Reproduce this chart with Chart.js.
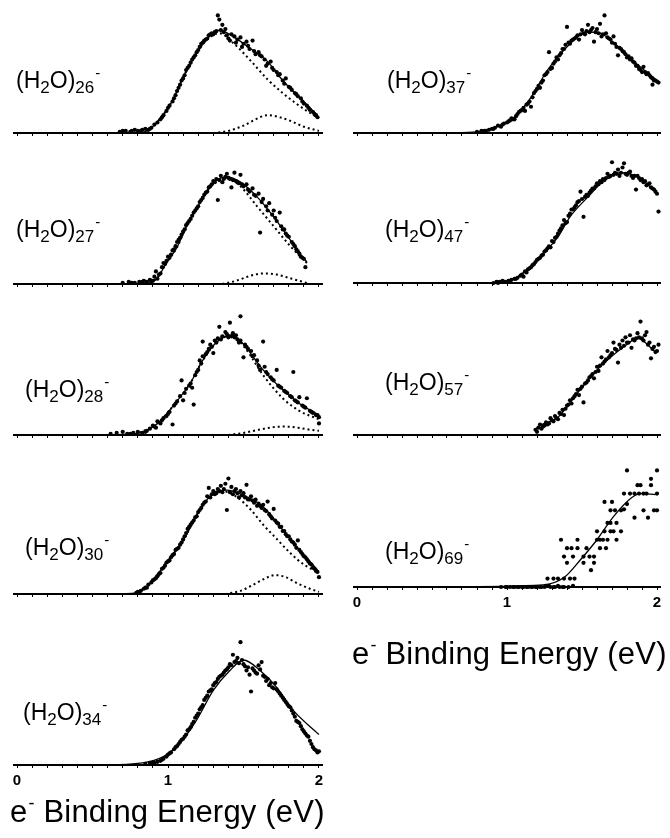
<!DOCTYPE html>
<html><head><meta charset="utf-8">
<script src="https://cdn.jsdelivr.net/npm/chart.js@4.4.1/dist/chart.umd.min.js"></script>
<style>
html,body{margin:0;padding:0;background:#fff;}
#page{position:relative;width:670px;height:838px;overflow:hidden;font-family:"Liberation Sans",Arial,sans-serif;color:#000;}
canvas{position:absolute;}
.lbl{position:absolute;font-size:23px;line-height:23px;white-space:nowrap;}
.lbl .sb{font-size:17px;position:relative;top:5px;}
.lbl .sp{font-size:15px;position:relative;top:-10px;margin-left:1px;}
.ttl{position:absolute;font-size:31px;line-height:31px;white-space:nowrap;letter-spacing:0.2px;}
.ttl .sp{font-size:18px;position:relative;top:-13px;margin-left:1px;}
</style></head><body><div id="page"></div>
<script>
// ---- axis ticks ----
const minorTicks = [0,0.1,0.2,0.3,0.4,0.5,0.6,0.7,0.8,0.9,1,1.1,1.2,1.3,1.4,1.5,1.6,1.7,1.8,1.9,2];
const majorTicks = [0,1,2];
const tickLabels = ['0','1','2'];
const clusterSizes = ['26','27','28','30','34','37','47','57','69'];
const axisTitle = 'Binding Energy (eV)';

// ---- (H2O)26- ----
const pts26 = [[0.68,0.01],[0.72,0.02],[0.75,0.01],[0.78,0.03],[0.8,0.02],[0.83,0.03],[0.85,0.04],[0.87,0.03],[0.89,0.05],[0.91,0.08],[0.93,0.10],[0.95,0.13],[0.97,0.17],[0.99,0.21],[1.01,0.26],[1.03,0.30],[1.05,0.36],[1.06,0.40],[1.08,0.46],[1.09,0.50],[1.11,0.55],[1.12,0.60],[1.14,0.64],[1.15,0.67],[1.17,0.72],[1.18,0.74],[1.20,0.79],[1.21,0.82],[1.23,0.86],[1.24,0.88],[1.26,0.90],[1.27,0.93],[1.29,0.95],[1.30,0.94],[1.32,0.97],[1.33,1.12],[1.34,1.08],[1.36,1.03],[1.37,0.96],[1.39,0.93],[1.40,0.90],[1.42,0.94],[1.44,0.92],[1.46,0.89],[1.48,0.91],[1.50,0.85],[1.52,0.87],[1.54,0.80],[1.56,0.88],[1.58,0.75],[1.60,0.77],[1.62,0.73],[1.64,0.70],[1.66,0.66],[1.68,0.68],[1.70,0.60],[1.72,0.58],[1.74,0.56],[1.76,0.50],[1.78,0.52],[1.80,0.44],[1.82,0.41],[1.84,0.38],[1.86,0.35],[1.88,0.33],[1.90,0.28],[1.92,0.26],[1.94,0.22],[1.96,0.20],[1.98,0.17],[1.99,0.15],
 [0.70,0.02],[0.76,0.02],[0.82,0.02],[0.88,0.04],[0.96,0.15],[1.00,0.24],[1.04,0.33],[1.07,0.43],[1.10,0.52],[1.13,0.62],[1.16,0.70],[1.19,0.77],[1.22,0.85],[1.25,0.89],[1.28,0.94],[1.31,0.96],[1.35,0.98],[1.38,0.99],[1.41,0.88],[1.45,0.86],[1.49,0.82],[1.53,0.83],[1.57,0.78],[1.61,0.74],[1.65,0.64],[1.69,0.62],[1.73,0.55],[1.77,0.47],[1.81,0.43],[1.85,0.37],[1.89,0.30],[1.93,0.24],[1.97,0.18]];
const fit26 = [[0.6,0],[0.8,0],[0.86,0.02],[0.95,0.14],[1.03,0.31],[1.10,0.53],[1.19,0.76],[1.26,0.90],[1.34,0.98],[1.43,0.92],[1.54,0.81],[1.66,0.68],[1.76,0.50],[1.87,0.34],[1.99,0.17]];
const main26 = [[0.86,0.02],[0.95,0.14],[1.03,0.31],[1.10,0.53],[1.19,0.76],[1.26,0.89],[1.34,0.95],[1.43,0.86],[1.54,0.70],[1.66,0.51],[1.76,0.38],[1.84,0.29],[1.92,0.21],[2.0,0.14]];
const comp26 = [[1.3,0],[1.4,0.02],[1.5,0.07],[1.58,0.13],[1.66,0.17],[1.74,0.15],[1.82,0.11],[1.9,0.06],[2.0,0.02]];

// ---- (H2O)27- ----
const pts27 = [[0.70,0.01],[0.74,0.02],[0.78,0.01],[0.81,0.02],[0.84,0.03],[0.86,0.02],[0.88,0.04],[0.90,0.03],[0.91,0.07],[0.92,0.12],[0.93,0.05],[0.95,0.10],[0.96,0.16],[0.97,0.20],[0.99,0.22],[1.00,0.26],[1.02,0.28],[1.03,0.32],[1.05,0.36],[1.06,0.40],[1.08,0.44],[1.09,0.47],[1.11,0.52],[1.12,0.56],[1.14,0.60],[1.15,0.62],[1.17,0.68],[1.18,0.70],[1.20,0.74],[1.21,0.78],[1.23,0.82],[1.24,0.85],[1.26,0.88],[1.27,0.92],[1.29,0.95],[1.30,0.98],[1.32,1.00],[1.33,0.80],[1.35,1.03],[1.36,0.97],[1.38,1.02],[1.39,1.05],[1.41,1.00],[1.42,0.92],[1.44,1.06],[1.45,0.98],[1.47,0.96],[1.48,1.04],[1.50,0.93],[1.52,0.95],[1.54,0.88],[1.56,0.91],[1.58,0.84],[1.60,0.86],[1.61,0.49],[1.63,0.81],[1.65,0.74],[1.67,0.77],[1.69,0.66],[1.70,0.70],[1.72,0.60],[1.74,0.68],[1.75,0.55],[1.77,0.52],[1.78,0.48],[1.80,0.45],[1.82,0.40],[1.84,0.36],[1.85,0.33],[1.87,0.29],[1.88,0.26],[1.90,0.24],[1.91,0.16],
 [0.76,0.01],[0.83,0.02],[0.89,0.03],[0.94,0.09],[0.98,0.19],[1.01,0.25],[1.04,0.33],[1.07,0.42],[1.10,0.50],[1.13,0.58],[1.16,0.65],[1.19,0.72],[1.22,0.80],[1.25,0.87],[1.28,0.93],[1.31,0.97],[1.34,0.99],[1.37,1.00],[1.40,1.01],[1.43,0.99],[1.46,0.97],[1.49,0.95],[1.53,0.90],[1.57,0.85],[1.62,0.78],[1.66,0.70],[1.71,0.63],[1.76,0.52],[1.79,0.46],[1.83,0.38],[1.86,0.31],[1.89,0.25]];
const fit27 = [[0.6,0],[0.88,0.01],[0.93,0.06],[0.99,0.20],[1.06,0.35],[1.12,0.54],[1.21,0.77],[1.30,0.96],[1.39,1.02],[1.48,0.97],[1.59,0.83],[1.70,0.64],[1.81,0.42],[1.89,0.26],[1.92,0.21]];
const main27 = [[0.88,0.01],[0.93,0.06],[0.99,0.20],[1.06,0.35],[1.12,0.54],[1.21,0.77],[1.30,0.96],[1.39,1.01],[1.48,0.93],[1.59,0.74],[1.70,0.55],[1.81,0.36],[1.92,0.20]];
const comp27 = [[1.36,0],[1.45,0.03],[1.55,0.08],[1.63,0.10],[1.72,0.09],[1.82,0.05],[1.92,0.01]];

// ---- (H2O)28- ----
const pts28 = [[0.62,0.01],[0.66,0.02],[0.70,0.03],[0.73,0.01],[0.77,0.02],[0.80,0.03],[0.83,0.02],[0.86,0.04],[0.88,0.06],[0.90,0.09],[0.92,0.07],[0.93,0.13],[0.95,0.11],[0.97,0.16],[0.99,0.18],[1.01,0.22],[1.03,0.10],[1.04,0.28],[1.06,0.32],[1.08,0.37],[1.09,0.52],[1.10,0.33],[1.12,0.44],[1.14,0.47],[1.16,0.45],[1.17,0.29],[1.18,0.57],[1.20,0.62],[1.21,0.71],[1.23,0.75],[1.23,0.89],[1.25,0.77],[1.27,0.82],[1.28,0.86],[1.30,0.78],[1.31,0.90],[1.33,0.92],[1.34,1.03],[1.36,0.94],[1.38,0.98],[1.40,0.93],[1.41,1.07],[1.43,0.97],[1.45,0.95],[1.46,0.91],[1.48,1.13],[1.48,0.90],[1.50,0.74],[1.51,0.86],[1.53,0.82],[1.55,0.80],[1.57,0.76],[1.59,0.71],[1.61,0.62],[1.63,0.89],[1.64,0.65],[1.66,0.58],[1.68,0.55],[1.70,0.52],[1.72,0.62],[1.73,0.47],[1.75,0.45],[1.77,0.42],[1.79,0.40],[1.81,0.37],[1.83,0.60],[1.84,0.33],[1.86,0.31],[1.87,0.36],[1.89,0.28],[1.91,0.26],[1.92,0.35],[1.94,0.23],[1.96,0.21],[1.98,0.19],[2.00,0.17],[2.00,0.11],
 [0.75,0.01],[0.85,0.03],[0.91,0.08],[0.96,0.14],[1.00,0.20],[1.05,0.30],[1.11,0.40],[1.15,0.49],[1.19,0.60],[1.22,0.68],[1.26,0.79],[1.29,0.84],[1.32,0.88],[1.35,0.91],[1.39,0.96],[1.42,0.94],[1.44,0.93],[1.47,0.88],[1.52,0.84],[1.56,0.75],[1.60,0.66],[1.65,0.60],[1.69,0.53],[1.74,0.46],[1.78,0.41],[1.82,0.36],[1.85,0.32],[1.90,0.27],[1.95,0.22],[1.99,0.19]];
const fit28 = [[0.6,0],[0.81,0.02],[0.93,0.11],[1.03,0.27],[1.15,0.50],[1.23,0.71],[1.32,0.88],[1.42,0.95],[1.47,0.91],[1.52,0.83],[1.63,0.62],[1.76,0.43],[1.87,0.30],[2.0,0.19]];
const main28 = [[0.81,0.02],[0.93,0.11],[1.03,0.27],[1.15,0.50],[1.23,0.71],[1.32,0.88],[1.42,0.95],[1.52,0.81],[1.63,0.57],[1.76,0.35],[1.87,0.23],[2.0,0.15]];
const comp28 = [[1.40,0],[1.5,0.02],[1.6,0.05],[1.7,0.075],[1.78,0.08],[1.86,0.07],[1.94,0.05],[2.0,0.04]];

// ---- (H2O)30- ----
const pts30 = [[0.79,0.01],[0.80,0.02],[0.82,0.03],[0.84,0.05],[0.86,0.06],[0.87,0.09],[0.89,0.11],[0.90,0.13],[0.92,0.15],[0.93,0.17],[0.95,0.20],[0.96,0.24],[0.98,0.27],[0.99,0.30],[1.01,0.32],[1.02,0.35],[1.04,0.38],[1.05,0.42],[1.07,0.44],[1.08,0.47],[1.10,0.52],[1.11,0.55],[1.13,0.62],[1.14,0.64],[1.16,0.68],[1.17,0.70],[1.19,0.74],[1.20,0.78],[1.22,0.82],[1.23,0.85],[1.25,0.88],[1.26,0.93],[1.27,1.01],[1.29,0.95],[1.30,0.98],[1.32,0.96],[1.33,1.00],[1.35,1.03],[1.36,0.97],[1.38,1.05],[1.39,0.80],[1.40,1.10],[1.42,1.02],[1.43,0.95],[1.45,1.00],[1.47,0.92],[1.48,0.98],[1.50,0.96],[1.52,1.04],[1.53,0.90],[1.55,0.93],[1.57,0.87],[1.58,0.90],[1.60,0.86],[1.62,0.82],[1.63,0.85],[1.65,0.79],[1.66,0.88],[1.68,0.74],[1.70,0.81],[1.71,0.70],[1.73,0.67],[1.75,0.64],[1.77,0.60],[1.78,0.57],[1.80,0.55],[1.82,0.50],[1.84,0.47],[1.86,0.51],[1.87,0.42],[1.89,0.38],[1.91,0.35],[1.93,0.31],[1.95,0.28],[1.96,0.25],[1.98,0.22],[2.00,0.16],
 [0.81,0.02],[0.85,0.06],[0.91,0.14],[0.94,0.19],[0.97,0.25],[1.00,0.31],[1.03,0.37],[1.06,0.43],[1.09,0.49],[1.12,0.58],[1.15,0.66],[1.18,0.73],[1.21,0.80],[1.24,0.87],[1.28,0.92],[1.31,0.95],[1.34,0.98],[1.37,1.00],[1.41,0.97],[1.44,0.98],[1.46,0.96],[1.49,0.94],[1.51,0.92],[1.54,0.90],[1.56,0.89],[1.59,0.84],[1.61,0.84],[1.64,0.80],[1.67,0.76],[1.69,0.72],[1.72,0.68],[1.74,0.64],[1.76,0.60],[1.79,0.55],[1.81,0.52],[1.83,0.49],[1.85,0.44],[1.88,0.40],[1.90,0.36],[1.92,0.33],[1.94,0.29],[1.97,0.24],[1.99,0.21]];
const fit30 = [[0.6,0],[0.79,0.01],[0.88,0.10],[0.99,0.30],[1.10,0.51],[1.21,0.80],[1.30,0.96],[1.39,0.99],[1.50,0.94],[1.63,0.83],[1.76,0.61],[1.87,0.42],[1.99,0.23]];
const main30 = [[0.79,0.01],[0.88,0.10],[0.99,0.30],[1.10,0.51],[1.21,0.80],[1.30,0.96],[1.36,0.98],[1.45,0.93],[1.55,0.80],[1.63,0.66],[1.71,0.54],[1.81,0.39],[1.90,0.28],[1.99,0.21]];
const comp30 = [[1.38,0],[1.48,0.03],[1.58,0.10],[1.66,0.16],[1.71,0.18],[1.78,0.16],[1.86,0.10],[1.94,0.05],[2.0,0.02]];

// ---- (H2O)34- ----
const pts34 = [[0.85,0.01],[0.88,0.02],[0.91,0.02],[0.93,0.03],[0.95,0.04],[0.97,0.06],[0.99,0.08],[1.00,0.10],[1.02,0.12],[1.04,0.15],[1.05,0.17],[1.07,0.20],[1.08,0.22],[1.10,0.25],[1.12,0.29],[1.13,0.33],[1.15,0.36],[1.17,0.41],[1.18,0.45],[1.20,0.49],[1.21,0.53],[1.23,0.57],[1.24,0.62],[1.26,0.66],[1.27,0.70],[1.29,0.72],[1.30,0.76],[1.32,0.79],[1.33,0.82],[1.35,0.85],[1.37,0.88],[1.38,0.90],[1.40,0.93],[1.41,0.96],[1.43,1.05],[1.44,0.98],[1.46,1.02],[1.48,1.17],[1.49,1.00],[1.51,0.94],[1.52,0.90],[1.54,0.86],[1.55,0.70],[1.56,0.92],[1.58,0.88],[1.60,0.95],[1.62,0.98],[1.64,0.84],[1.65,0.80],[1.67,0.76],[1.69,0.74],[1.71,0.78],[1.73,0.70],[1.75,0.66],[1.77,0.62],[1.79,0.58],[1.81,0.55],[1.83,0.49],[1.85,0.42],[1.87,0.40],[1.89,0.34],[1.91,0.30],[1.93,0.27],[1.95,0.20],[1.96,0.17],[1.98,0.14],[1.99,0.12],
 [0.90,0.02],[0.96,0.05],[1.01,0.11],[1.06,0.18],[1.09,0.24],[1.11,0.27],[1.14,0.34],[1.16,0.39],[1.19,0.47],[1.22,0.55],[1.25,0.64],[1.28,0.71],[1.31,0.78],[1.34,0.84],[1.36,0.86],[1.39,0.91],[1.42,0.95],[1.45,0.99],[1.47,0.97],[1.50,0.96],[1.53,0.93],[1.57,0.90],[1.59,0.87],[1.61,0.91],[1.63,0.85],[1.66,0.82],[1.68,0.78],[1.70,0.73],[1.72,0.72],[1.74,0.68],[1.76,0.64],[1.78,0.60],[1.80,0.56],[1.82,0.52],[1.84,0.46],[1.86,0.41],[1.88,0.37],[1.90,0.32],[1.92,0.28],[1.94,0.23],[1.97,0.15],[2.00,0.13]];
const fit34 = [[0.6,0],[0.83,0.02],[0.97,0.08],[1.08,0.21],[1.19,0.43],[1.30,0.71],[1.41,0.90],[1.50,1.0],[1.61,0.90],[1.72,0.74],[1.83,0.52],[2.0,0.29]];

// ---- (H2O)37- ----
const pts37 = [[0.80,0.01],[0.83,0.02],[0.86,0.02],[0.88,0.03],[0.90,0.04],[0.92,0.05],[0.94,0.07],[0.96,0.06],[0.98,0.09],[1.00,0.10],[1.02,0.12],[1.03,0.14],[1.05,0.13],[1.07,0.18],[1.08,0.20],[1.10,0.22],[1.12,0.21],[1.13,0.27],[1.15,0.30],[1.16,0.25],[1.18,0.38],[1.19,0.40],[1.21,0.45],[1.22,0.43],[1.24,0.50],[1.25,0.55],[1.27,0.58],[1.28,0.77],[1.30,0.62],[1.31,0.66],[1.33,0.72],[1.34,0.70],[1.36,0.76],[1.37,0.80],[1.39,0.84],[1.40,1.01],[1.42,0.85],[1.43,0.88],[1.45,0.90],[1.47,0.93],[1.48,0.89],[1.50,0.98],[1.52,0.94],[1.54,1.03],[1.55,0.96],[1.57,1.00],[1.58,0.87],[1.60,0.99],[1.62,1.04],[1.63,0.92],[1.65,1.12],[1.66,0.95],[1.68,0.90],[1.70,0.86],[1.71,0.92],[1.73,0.82],[1.74,0.74],[1.76,0.80],[1.78,0.77],[1.80,0.72],[1.82,0.70],[1.84,0.68],[1.86,0.64],[1.88,0.61],[1.90,0.58],[1.91,0.63],[1.93,0.56],[1.95,0.55],[1.97,0.52],[1.97,0.46],[1.99,0.50],[2.01,0.48],
 [0.85,0.02],[0.91,0.04],[0.97,0.08],[1.01,0.11],[1.04,0.13],[1.06,0.16],[1.09,0.21],[1.11,0.24],[1.14,0.28],[1.17,0.34],[1.20,0.42],[1.23,0.48],[1.26,0.56],[1.29,0.61],[1.32,0.68],[1.35,0.74],[1.38,0.80],[1.41,0.86],[1.44,0.89],[1.46,0.91],[1.49,0.94],[1.51,0.95],[1.53,0.97],[1.56,0.98],[1.59,0.96],[1.61,0.95],[1.64,0.94],[1.67,0.91],[1.69,0.89],[1.72,0.85],[1.75,0.81],[1.77,0.78],[1.79,0.75],[1.81,0.73],[1.83,0.71],[1.85,0.67],[1.87,0.64],[1.89,0.60],[1.92,0.58],[1.94,0.57],[1.96,0.53],[1.98,0.50],[2.00,0.49]];
const fit37 = [[0.6,0],[0.80,0.01],[0.93,0.06],[1.05,0.15],[1.16,0.34],[1.27,0.60],[1.38,0.79],[1.51,0.95],[1.60,0.96],[1.71,0.86],[1.83,0.70],[1.94,0.57],[2.01,0.49]];

// ---- (H2O)47- ----
const pts47 = [[0.91,0.00],[0.93,0.01],[0.95,0.01],[0.97,0.02],[0.99,0.01],[1.01,0.02],[1.03,0.03],[1.05,0.04],[1.07,0.05],[1.09,0.07],[1.11,0.06],[1.12,0.11],[1.14,0.13],[1.16,0.15],[1.18,0.18],[1.20,0.22],[1.22,0.24],[1.24,0.27],[1.25,0.30],[1.27,0.33],[1.29,0.34],[1.30,0.40],[1.32,0.43],[1.34,0.47],[1.35,0.50],[1.37,0.55],[1.38,0.60],[1.40,0.58],[1.41,0.64],[1.43,0.70],[1.45,0.72],[1.47,0.77],[1.49,0.87],[1.50,0.80],[1.51,0.63],[1.53,0.84],[1.55,0.86],[1.57,0.90],[1.59,0.92],[1.60,0.95],[1.62,0.97],[1.64,0.99],[1.66,1.00],[1.67,1.04],[1.69,1.02],[1.70,1.15],[1.72,1.05],[1.74,1.08],[1.75,1.02],[1.77,1.10],[1.78,1.14],[1.80,1.03],[1.82,1.06],[1.84,1.00],[1.86,0.89],[1.87,1.02],[1.89,0.98],[1.91,0.96],[1.93,0.93],[1.95,0.95],[1.97,0.90],[1.98,0.89],[2.00,0.85],[2.01,0.68],
 [0.94,0.00],[0.98,0.01],[1.02,0.02],[1.06,0.04],[1.10,0.08],[1.13,0.10],[1.15,0.14],[1.17,0.17],[1.19,0.20],[1.21,0.23],[1.23,0.26],[1.26,0.31],[1.28,0.35],[1.31,0.39],[1.33,0.44],[1.36,0.52],[1.39,0.57],[1.42,0.66],[1.44,0.70],[1.46,0.74],[1.48,0.78],[1.52,0.82],[1.54,0.83],[1.56,0.88],[1.58,0.90],[1.61,0.94],[1.63,0.96],[1.65,0.98],[1.68,1.01],[1.71,1.03],[1.73,1.04],[1.76,1.05],[1.79,1.04],[1.81,1.05],[1.83,1.02],[1.85,1.02],[1.88,1.00],[1.90,0.99],[1.92,0.97],[1.94,0.94],[1.96,0.91],[1.99,0.87]];
const fit47 = [[0.6,0],[0.91,0],[1.02,0.02],[1.11,0.10],[1.22,0.25],[1.34,0.44],[1.42,0.63],[1.54,0.82],[1.65,0.98],[1.76,1.05],[1.87,1.01],[2.0,0.86]];

// ---- (H2O)57- ----
const pts57 = [[1.19,0.05],[1.20,0.03],[1.22,0.10],[1.23,0.06],[1.25,0.09],[1.26,0.12],[1.28,0.11],[1.29,0.16],[1.31,0.13],[1.32,0.18],[1.34,0.15],[1.35,0.21],[1.37,0.24],[1.38,0.19],[1.40,0.28],[1.42,0.33],[1.43,0.30],[1.45,0.37],[1.47,0.43],[1.48,0.38],[1.50,0.46],[1.51,0.31],[1.52,0.49],[1.54,0.52],[1.55,0.55],[1.57,0.58],[1.58,0.54],[1.60,0.65],[1.61,0.61],[1.63,0.74],[1.64,0.68],[1.66,0.72],[1.67,0.80],[1.69,0.76],[1.71,0.88],[1.72,0.82],[1.74,0.69],[1.75,0.86],[1.77,0.90],[1.79,0.93],[1.80,0.88],[1.82,0.95],[1.83,0.83],[1.85,0.90],[1.87,0.97],[1.89,1.08],[1.90,0.92],[1.92,0.95],[1.93,0.98],[1.95,0.88],[1.96,0.73],[1.98,0.84],[1.99,0.79],[2.01,0.86],
 [1.21,0.07],[1.24,0.08],[1.27,0.10],[1.30,0.14],[1.33,0.16],[1.36,0.20],[1.39,0.25],[1.41,0.29],[1.44,0.35],[1.46,0.39],[1.49,0.44],[1.53,0.50],[1.56,0.56],[1.59,0.60],[1.62,0.66],[1.65,0.70],[1.68,0.74],[1.70,0.78],[1.73,0.81],[1.76,0.83],[1.78,0.85],[1.81,0.88],[1.84,0.91],[1.86,0.92],[1.88,0.93],[1.91,0.90],[1.94,0.86],[1.97,0.82],[2.00,0.80]];
const fit57 = [[1.19,0.05],[1.20,0.07],[1.34,0.17],[1.47,0.40],[1.58,0.59],[1.69,0.74],[1.78,0.84],[1.87,0.92],[1.99,0.79]];

// ---- (H2O)69- ----
const pts69 = [[0.96,0],[0.99,0],[1.02,0],[1.05,0],[1.08,0],[1.11,0],[1.14,0],[1.17,0],[1.20,0],[1.23,0],[1.26,0.01],[1.29,0],[1.32,0],[1.35,0],[1.38,0],[1.41,0],[1.27,0.08],[1.31,0.08],[1.34,0.08],[1.38,0.08],[1.42,0.08],[1.36,0.45],[1.40,0.37],[1.47,0.37],[1.38,0.29],[1.44,0.29],[1.51,0.29],[1.58,0.29],[1.40,0.23],[1.51,0.23],[1.58,0.23],[1.56,0.16],[1.62,0.45],[1.67,0.45],[1.73,0.45],[1.65,0.53],[1.69,0.53],[1.76,0.53],[1.69,0.61],[1.73,0.61],[1.62,0.37],[1.66,0.37],[1.76,0.73],[1.69,0.73],[1.65,0.81],[1.80,0.79],[1.78,0.89],[1.85,0.89],[1.91,0.89],[1.87,0.97],[1.96,0.97],[1.91,0.73],[2.00,0.73],[1.94,0.66],[1.85,0.66],[1.80,1.11],[2.00,1.11],[2.00,0.89],[1.96,1.03],[1.78,0.74],
 [1.00,0],[1.04,0],[1.07,0],[1.10,0],[1.13,0],[1.16,0],[1.19,0],[1.22,0],[1.25,0],[1.28,0.01],[1.31,0],[1.34,0.01],[1.37,0],[1.44,0.01],[1.45,0.08],[1.43,0.37],[1.47,0.45],[1.53,0.37],[1.55,0.29],[1.60,0.45],[1.64,0.45],[1.71,0.53],[1.67,0.61],[1.72,0.73],[1.70,0.81],[1.82,0.89],[1.88,0.89],[1.93,0.89],[1.89,0.97],[1.98,0.73],[1.60,0.53]];
const fit69 = [[0.5,0],[1.24,0.02],[1.38,0.09],[1.49,0.26],[1.60,0.45],[1.71,0.67],[1.83,0.85],[1.89,0.89],[1.99,0.88]];

// ---- layout ----
const page = document.getElementById('page');
const panels = [
  {n:0, col:0, base:133, pts:pts26, fit:fit26, main:main26, comp:comp26, ticks:false, lx:16, ly:88},
  {n:1, col:0, base:284, pts:pts27, fit:fit27, main:main27, comp:comp27, ticks:false, lx:16, ly:237},
  {n:2, col:0, base:435, pts:pts28, fit:fit28, main:main28, comp:comp28, ticks:false, lx:25, ly:397},
  {n:3, col:0, base:594, pts:pts30, fit:fit30, main:main30, comp:comp30, ticks:false, lx:25, ly:555},
  {n:4, col:0, base:765, pts:pts34, fit:fit34, ticks:true, lx:23, ly:720},
  {n:5, col:1, base:133, pts:pts37, fit:fit37, ticks:false, lx:387, ly:88},
  {n:6, col:1, base:283, pts:pts47, fit:fit47, ticks:false, lx:385, ly:237},
  {n:7, col:1, base:435, pts:pts57, fit:fit57, ticks:false, lx:385, ly:390},
  {n:8, col:1, base:587, pts:pts69, fit:fit69, ticks:true, lx:385, ly:559}
];

function tickText(v){
  const r = Math.round(v*10)/10;
  const i = majorTicks.indexOf(r);
  return i >= 0 ? tickLabels[i] : '';
}

panels.forEach(p => {
  const c = document.createElement('canvas');
  const W = 335, H = 170;
  c.width = W; c.height = H;
  c.style.width = W+'px'; c.style.height = H+'px';
  c.style.left = (p.col===0 ? 0 : 335)+'px';
  c.style.top = (p.base - 144)+'px';
  page.appendChild(c);
  const padL = p.col===0 ? 14 : 19;
  const padR = p.col===0 ? 13 : 10;
  const ds = [];
  ds.push({type:'scatter', data:p.pts, pointRadius:2.1, pointBackgroundColor:'#000', pointBorderWidth:0, showLine:false, clip:false});
  ds.push({type:'line', data:p.fit, borderColor:'#000', borderWidth:1.3, pointRadius:0, cubicInterpolationMode:'monotone', fill:false, clip:false});
  if (p.main) ds.push({type:'line', data:p.main, borderColor:'#000', borderWidth:2, borderDash:[2,3], pointRadius:0, cubicInterpolationMode:'monotone', fill:false, clip:false});
  if (p.comp) ds.push({type:'line', data:p.comp, borderColor:'#000', borderWidth:2, borderDash:[2,3], pointRadius:0, cubicInterpolationMode:'monotone', fill:false, clip:false});
  new Chart(c, {
    type:'scatter',
    data:{datasets:ds},
    options:{
      responsive:false, animation:false, devicePixelRatio:1,
      layout:{padding:{left:padL, right:padR, top:7.5, bottom:0}},
      plugins:{legend:{display:false}, tooltip:{enabled:false}},
      scales:{
        x:{type:'linear', min:-0.02, max:2.02, position:'bottom',
          afterBuildTicks: ax => { ax.ticks = minorTicks.map(v => ({value:v})); },
          afterFit: ax => { ax.height = 26; },
          border:{display:true, color:'#000', width:2},
          grid:{display:true, drawOnChartArea:false, drawTicks:true, tickLength:3, color:'#000', lineWidth:1},
          ticks:{autoSkip:false, maxRotation:0, minRotation:0, padding:4, color:'#000',
            font:{family:'Liberation Sans', size:15, weight:'bold'},
            callback: v => p.ticks ? tickText(v) : ''}
        },
        y:{type:'linear', min:0, max:1.3, display:false}
      }
    }
  });
  const l = document.createElement('div');
  l.className = 'lbl';
  l.style.left = p.lx+'px';
  l.style.top = (p.ly - 19.5)+'px';
  l.innerHTML = '(H<span class="sb">2</span>O)<span class="sb">'+clusterSizes[p.n]+'</span><span class="sp">-</span>';
  page.appendChild(l);
});

function addTitle(x, baseline){
  const t = document.createElement('div');
  t.className = 'ttl';
  t.style.left = x+'px';
  t.style.top = (baseline - 26.2)+'px';
  t.innerHTML = 'e<span class="sp">-</span> '+axisTitle;
  page.appendChild(t);
}
addTitle(10, 822);
addTitle(352, 664);
</script>
</body></html>
